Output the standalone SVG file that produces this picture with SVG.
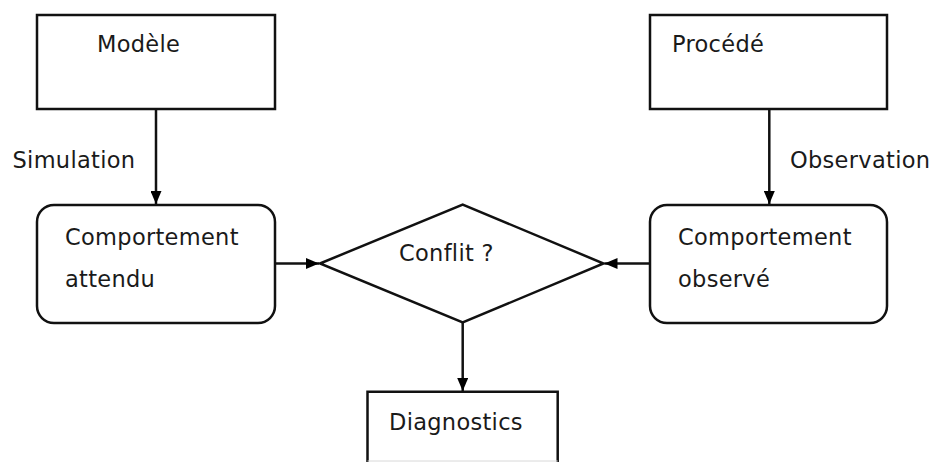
<svg xmlns="http://www.w3.org/2000/svg" width="934" height="462" viewBox="0 0 934 462">
<style>
.box{fill:#fff;stroke:#111;stroke-width:2.5}
.t{font-family:"DejaVu Sans",sans-serif;font-size:22.5px;fill:#1a1a1a;letter-spacing:0.3px}
.c{stroke:#111;stroke-width:2.5;fill:none}
</style>
<defs>
<marker id="ah" viewBox="0 0 13 11" refX="13" refY="5.5" markerWidth="13" markerHeight="11" markerUnits="userSpaceOnUse" orient="auto">
<path d="M0,0 L13,5.5 L0,11 Z" fill="#000"/>
</marker>
</defs>
<rect width="934" height="462" fill="#fff"/>
<g id="modele">
<rect class="box" x="37" y="15" width="238" height="94"/>
<text class="t" x="97" y="52">Modèle</text>
</g>
<g id="procede">
<rect class="box" x="650" y="15" width="237" height="94"/>
<text class="t" x="672" y="52">Procédé</text>
</g>
<g id="attendu">
<rect class="box" x="37" y="205" width="238" height="118" rx="17" ry="17"/>
<text class="t" x="65" y="245">Comportement</text>
<text class="t" x="65" y="287">attendu</text>
</g>
<g id="observe">
<rect class="box" x="650" y="205" width="237" height="118" rx="17" ry="17"/>
<text class="t" x="678" y="245">Comportement</text>
<text class="t" x="678" y="287">observé</text>
</g>
<g id="conflit">
<polygon class="box" points="320,263.5 462.7,204.5 603.5,263.5 462.7,322.5"/>
<text class="t" x="399" y="261">Conflit ?</text>
</g>
<g id="diagnostics">
<path class="c" d="M367.5,470 V391.7 H557.7 V470"/>
<line x1="367.5" y1="461" x2="557.7" y2="461" stroke="#d8d8d8" stroke-width="1"/>
<text class="t" x="389" y="430">Diagnostics</text>
</g>
<g id="connectors">
<line class="c" x1="156" y1="109" x2="156" y2="204" marker-end="url(#ah)"/>
<line class="c" x1="769.3" y1="109" x2="769.3" y2="204" marker-end="url(#ah)"/>
<line class="c" x1="275" y1="263.5" x2="319" y2="263.5" marker-end="url(#ah)"/>
<line class="c" x1="650" y1="263.5" x2="604.5" y2="263.5" marker-end="url(#ah)"/>
<line class="c" x1="462.7" y1="322.5" x2="462.7" y2="391" marker-end="url(#ah)"/>
<text class="t" x="12.5" y="168">Simulation</text>
<text class="t" x="790" y="168">Observation</text>
</g>
</svg>
